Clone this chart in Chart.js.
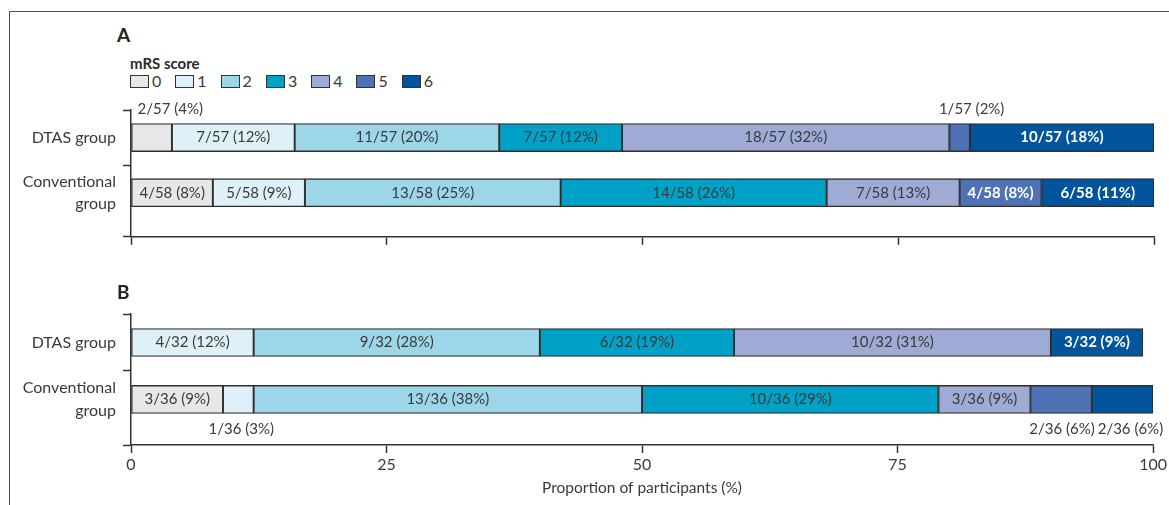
<!DOCTYPE html>
<html>
<head>
<meta charset="utf-8">
<script src="https://cdn.jsdelivr.net/npm/chart.js@4.4.1/dist/chart.umd.min.js"></script>
<style>
  body { margin: 0; width: 1169px; height: 505px; overflow: hidden; background: #fff; position: relative; font-family: Lato, sans-serif; color: #3a3a3a; }
  #frame { position: absolute; left: 9px; top: 11px; width: 1300px; height: 600px; border-top: 1.5px solid #c8163f; border-left: 1.5px solid #c8163f; }
  .letter { position: absolute; left: 117px; font-weight: bold; font-size: 19px; line-height: 22px; color: #222; z-index: 2; }
  #legend { position: absolute; left: 130px; top: 53px; z-index: 2; }
  #legend .ltitle { font-weight: bold; font-size: 15px; line-height: 20px; color: #2a2a2a; }
  #litems { display: flex; height: 18px; margin-top: -1px; }
  #litems .item { width: 45.3px; display: flex; align-items: center; font-size: 16px; line-height: 18px; }
  #litems .box { width: 17px; height: 11px; border: 1px solid #333; margin-right: 3px; }
  .wrap { position: absolute; left: 0; width: 1169px; }
</style>
</head>
<body>
<div id="frame"></div>
<div class="letter" style="top:24px">A</div>
<div class="letter" style="top:281px">B</div>
<div id="legend"><div class="ltitle">mRS score</div><div id="litems"></div></div>
<div class="wrap" style="top:90px;height:165px"><canvas id="chartA"></canvas></div>
<div class="wrap" style="top:290px;height:215px"><canvas id="chartB"></canvas></div>
<script>
// mRS-Verteilung, zwei Panels (A und B)
const scores = ['0', '1', '2', '3', '4', '5', '6'];
const scoreColours = ['#e6e7e8', '#dff1f8', '#9dd6e9', '#00a1c7', '#9eacd5', '#4e72b4', '#02549c'];
const groups = ['DTAS group', ['Conventional', 'group']];
const xTicks = [0, 25, 50, 75, 100];
const xTitle = 'Proportion of participants (%)';

// Panel A
const aDtasN = [2, 7, 11, 7, 18, 1, 10];
const aDtasPct = [4, 12, 20, 12, 32, 2, 18];
const aDtasTotal = 57;
const aConvN = [4, 5, 13, 14, 7, 4, 6];
const aConvPct = [8, 9, 25, 26, 13, 8, 11];
const aConvTotal = 58;

// Panel B
const bDtasN = [0, 4, 9, 6, 10, 0, 3];
const bDtasPct = [0, 12, 28, 19, 31, 0, 9];
const bDtasTotal = 32;
const bConvN = [3, 1, 13, 10, 3, 2, 2];
const bConvPct = [9, 3, 38, 29, 9, 6, 6];
const bConvTotal = 36;

// where each segment label goes
const aPlaces = [['aboveStart', 'in', 'in', 'in', 'in', 'above', 'in'], ['in', 'in', 'in', 'in', 'in', 'in', 'in']];
const bPlaces = [['in', 'in', 'in', 'in', 'in', 'in', 'in'], ['in', 'below', 'in', 'in', 'in', 'below', 'below']];
const aNudge = { '0-5': 12 };
const bNudge = { '1-1': 3, '1-5': 1, '1-6': 8 };

const axisMax = 2.3; // group rows sit at 0.5 and 1.5

Chart.defaults.font.family = 'Lato';
Chart.defaults.color = '#3a3a3a';

// legend (html)
const litems = document.getElementById('litems');
scores.forEach((s, k) => {
  const item = document.createElement('div');
  item.className = 'item';
  item.innerHTML = '<span class="box" style="background:' + scoreColours[k] + '"></span>' + s;
  litems.appendChild(item);
});

const segmentLabels = {
  id: 'segmentLabels',
  afterDatasetsDraw(chart) {
    const o = chart.options.plugins.segmentLabels;
    const ctx = chart.ctx;
    ctx.save();
    ctx.textBaseline = 'middle';
    chart.data.datasets.forEach((ds, k) => {
      const meta = chart.getDatasetMeta(k);
      meta.data.forEach((bar, g) => {
        const n = o.counts[g][k];
        if (!n) return;
        const place = o.places[g][k];
        const text = n + '/' + o.totals[g] + ' (' + o.pcts[g][k] + '%)';
        const p = bar.getProps(['x', 'y', 'base', 'height'], true);
        const dx = o.nudge[g + '-' + k] || 0;
        let tx = (p.x + p.base) / 2 + dx;
        let ty = p.y;
        ctx.textAlign = 'center';
        ctx.fillStyle = '#3a3a3a';
        ctx.font = '15px Lato';
        if (place === 'in') {
          if (k >= 5) {
            ctx.fillStyle = '#ffffff';
            ctx.font = 'bold 15px Lato';
          }
        } else if (place === 'above') {
          ty = p.y - p.height / 2 - 14;
        } else if (place === 'aboveStart') {
          ty = p.y - p.height / 2 - 14;
          tx = Math.min(p.x, p.base) + 6;
          ctx.textAlign = 'left';
        } else if (place === 'below') {
          ty = p.y + p.height / 2 + 16;
        }
        ctx.fillText(text, tx, ty);
      });
    });
    ctx.restore();
  }
};

function makePanel(id, counts, pcts, totals, places, nudge, bottomAxis) {
  const datasets = scores.map((s, k) => ({
    label: s,
    data: groups.map((g, i) => ({ y: i + 0.5, x: pcts[i][k] || null })),
    backgroundColor: scoreColours[k],
    borderColor: '#2e2e2e',
    borderWidth: 1.3,
    borderSkipped: false,
    barThickness: 28
  }));

  return new Chart(document.getElementById(id), {
    type: 'bar',
    data: { datasets: datasets },
    plugins: [segmentLabels],
    options: {
      indexAxis: 'y',
      responsive: true,
      maintainAspectRatio: false,
      animation: false,
      layout: { padding: { top: bottomAxis ? 24 : 20, right: 15, bottom: 0, left: 0 } },
      plugins: {
        legend: { display: false },
        tooltip: { enabled: false },
        segmentLabels: { counts: counts, pcts: pcts, totals: totals, places: places, nudge: nudge }
      },
      scales: {
        x: {
          type: 'linear',
          stacked: true,
          min: 0,
          max: 100,
          afterBuildTicks: (s) => { s.ticks = xTicks.map(v => ({ value: v })); },
          afterFit: (s) => { s.height = bottomAxis ? 60 : 14; },
          grid: { drawOnChartArea: false, tickLength: 8, tickWidth: 1.5, tickColor: '#333' },
          border: { display: true, color: '#333', width: 1.5 },
          ticks: { display: bottomAxis, padding: 2, font: { size: 16 }, color: '#3a3a3a' },
          title: { display: bottomAxis, text: xTitle, font: { size: 15.5 }, color: '#3a3a3a', padding: { top: 4, bottom: 8 } }
        },
        y: {
          type: 'linear',
          stacked: true,
          reverse: true,
          offset: false,
          min: 0,
          max: axisMax,
          afterBuildTicks: (s) => { s.ticks = [0, 0.5, 1, 1.5, axisMax].map(v => ({ value: v })); },
          afterFit: (s) => { s.width = 131; },
          grid: {
            offset: false,
            drawOnChartArea: false,
            tickLength: 8,
            tickWidth: 1.5,
            tickColor: (c) => (c.tick && c.tick.value % 1 === 0.5) ? 'rgba(0,0,0,0)' : '#333'
          },
          border: { display: true, color: '#333', width: 1.5 },
          ticks: {
            autoSkip: false,
            padding: 7,
            color: '#3a3a3a',
            font: { size: 16, lineHeight: 1.4 },
            callback: (v) => (v % 1 === 0.5) ? groups[Math.floor(v)] : ''
          }
        }
      }
    }
  });
}

makePanel('chartA', [aDtasN, aConvN], [aDtasPct, aConvPct], [aDtasTotal, aConvTotal], aPlaces, aNudge, false);
makePanel('chartB', [bDtasN, bConvN], [bDtasPct, bConvPct], [bDtasTotal, bConvTotal], bPlaces, bNudge, true);
</script>
</body>
</html>
